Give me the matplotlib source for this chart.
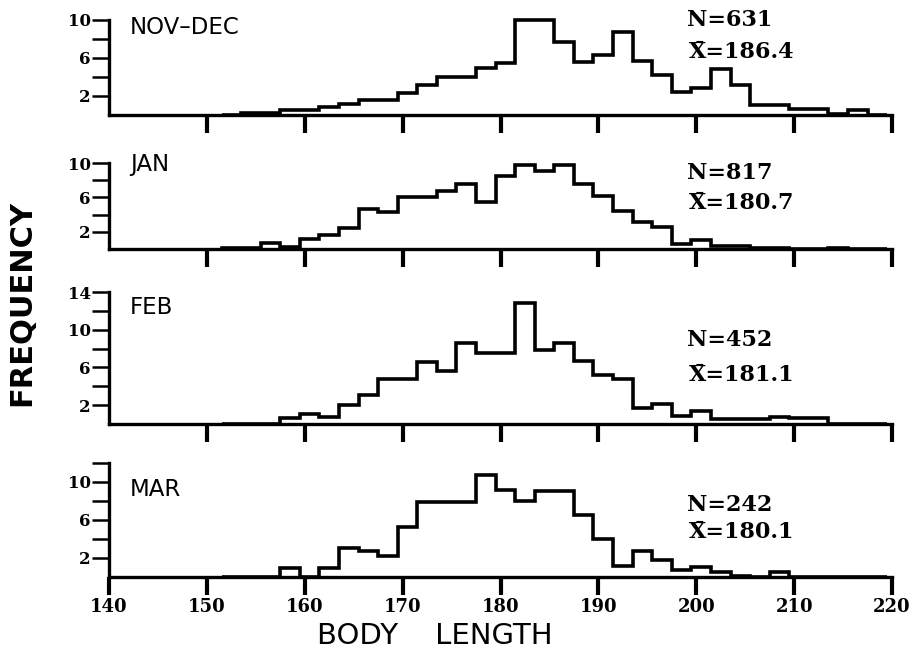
import numpy as np
import matplotlib
matplotlib.use("Agg")
import matplotlib.pyplot as plt
from matplotlib.transforms import ScaledTranslation

W, H = 917, 652

# 2-unit body length classes
bin_edges = np.arange(151.5, 221.5, 2)

months = ["NOV\u2013DEC", "JAN", "FEB", "MAR"]
n_fish = [631, 817, 452, 242]
mean_len = ["186.4", "180.7", "181.1", "180.1"]
y_tops = [10, 10, 14, 12]

freq_novdec = [0, 0.2, 0.2, 0.5, 0.5, 0.8, 1.15, 1.6, 1.6, 2.3, 3.2, 4.05, 4.05, 4.9, 5.5,
               10, 10, 7.7, 5.6, 6.3, 8.7, 5.7, 4.2, 2.45, 2.8, 4.8, 3.15, 1.05, 1.05,
               0.63, 0.63, 0.1, 0.5, 0]
freq_jan = [0.1, 0.1, 0.7, 0.2, 1.15, 1.65, 2.45, 4.65, 4.25, 6.0, 6.0, 6.7, 7.55, 5.5, 8.5,
            9.75, 9.1, 9.8, 7.55, 6.2, 4.45, 3.1, 2.6, 0.6, 1.05, 0.4, 0.4, 0.1, 0.15,
            0.05, 0.05, 0.15, 0.05, 0]
freq_feb = [0, 0, 0, 0.6, 1.1, 0.7, 2.0, 3.05, 4.75, 4.75, 6.6, 5.6, 8.6, 7.5, 7.5,
            12.8, 7.8, 8.6, 6.7, 5.25, 4.75, 1.75, 2.1, 0.85, 1.4, 0.55, 0.55, 0.55, 0.75,
            0.6, 0.6, 0, 0, 0]
freq_mar = [0, 0, 0, 0.9, 0, 1.0, 3.05, 2.7, 2.2, 5.3, 7.9, 7.9, 7.9, 10.7, 9.2,
            7.95, 9.1, 9.1, 6.5, 4.0, 1.15, 2.7, 1.8, 0.7, 1.05, 0.55, 0.1, 0, 0.5,
            0, 0, 0, 0, 0]
freqs = [freq_novdec, freq_jan, freq_feb, freq_mar]

x_ticks = [140, 150, 160, 170, 180, 190, 200, 210, 220]
y_labelled = [2, 6, 10, 14]

# pixel layout of each panel: baseline row and row of the top of the y axis
baselines = [115, 249, 424, 577]
top_rows = [20, 163, 292, 463]
label_rows = [27, 165, 307, 490]
n_rows = [20, 173, 340, 505]
mean_rows = [52, 203, 375, 532]

num_font = dict(family="DejaVu Serif", weight="bold")
word_font = dict(family="DejaVu Sans")

fig = plt.figure(figsize=(W / 100, H / 100), dpi=100)

for i in range(4):
    ax = fig.add_axes([109 / W, 1 - baselines[i] / H, 783 / W,
                       (baselines[i] - top_rows[i]) / H])
    ax.stairs(freqs[i], bin_edges, color="black", lw=2.6, baseline=0, clip_on=False)
    ax.set_xlim(140, 220)
    ax.set_ylim(0, y_tops[i])

    for s in ["top", "right"]:
        ax.spines[s].set_visible(False)
    for s in ["left", "bottom"]:
        ax.spines[s].set_linewidth(2.4)
    ax.spines["left"].set_bounds(0, y_tops[i])
    ax.spines["bottom"].set_bounds(140, 220)

    yt = list(range(2, y_tops[i] + 1, 2))
    ax.set_yticks(yt)
    ax.set_yticklabels([str(v) if v in y_labelled else "" for v in yt], fontsize=12, **num_font)
    ax.tick_params(axis="y", direction="out", length=12, width=1.8, pad=1)

    if i == 3:
        ax.set_xticks(x_ticks)
        ax.set_xticklabels([str(v) for v in x_ticks], fontsize=13, **num_font)
        shift = ScaledTranslation(8 / 100, 0, fig.dpi_scale_trans)
        for lab in ax.get_xticklabels():
            lab.set_transform(lab.get_transform() + shift)
    else:
        ax.set_xticks(x_ticks[1:])
        ax.set_xticklabels([])
    ax.tick_params(axis="x", direction="out", length=13, width=3, pad=2)

    fig.text(130 / W, 1 - label_rows[i] / H, months[i], fontsize=16.5,
             va="center", ha="left", **word_font)
    fig.text(687 / W, 1 - n_rows[i] / H, "N=%d" % n_fish[i], fontsize=16,
             va="center", ha="left", **num_font)
    fig.text(689 / W, 1 - mean_rows[i] / H, "X\u0304=" + mean_len[i], fontsize=16,
             va="center", ha="left", **num_font)

fig.text(22 / W, 1 - 303 / H, "FREQUENCY", rotation=90, fontsize=22,
         weight="bold", family="DejaVu Sans", va="center", ha="center")
fig.text(435 / W, 1 - 636 / H, "BODY    LENGTH", fontsize=21,
         va="center", ha="center", **word_font)

fig.savefig("out.png", dpi=100)
